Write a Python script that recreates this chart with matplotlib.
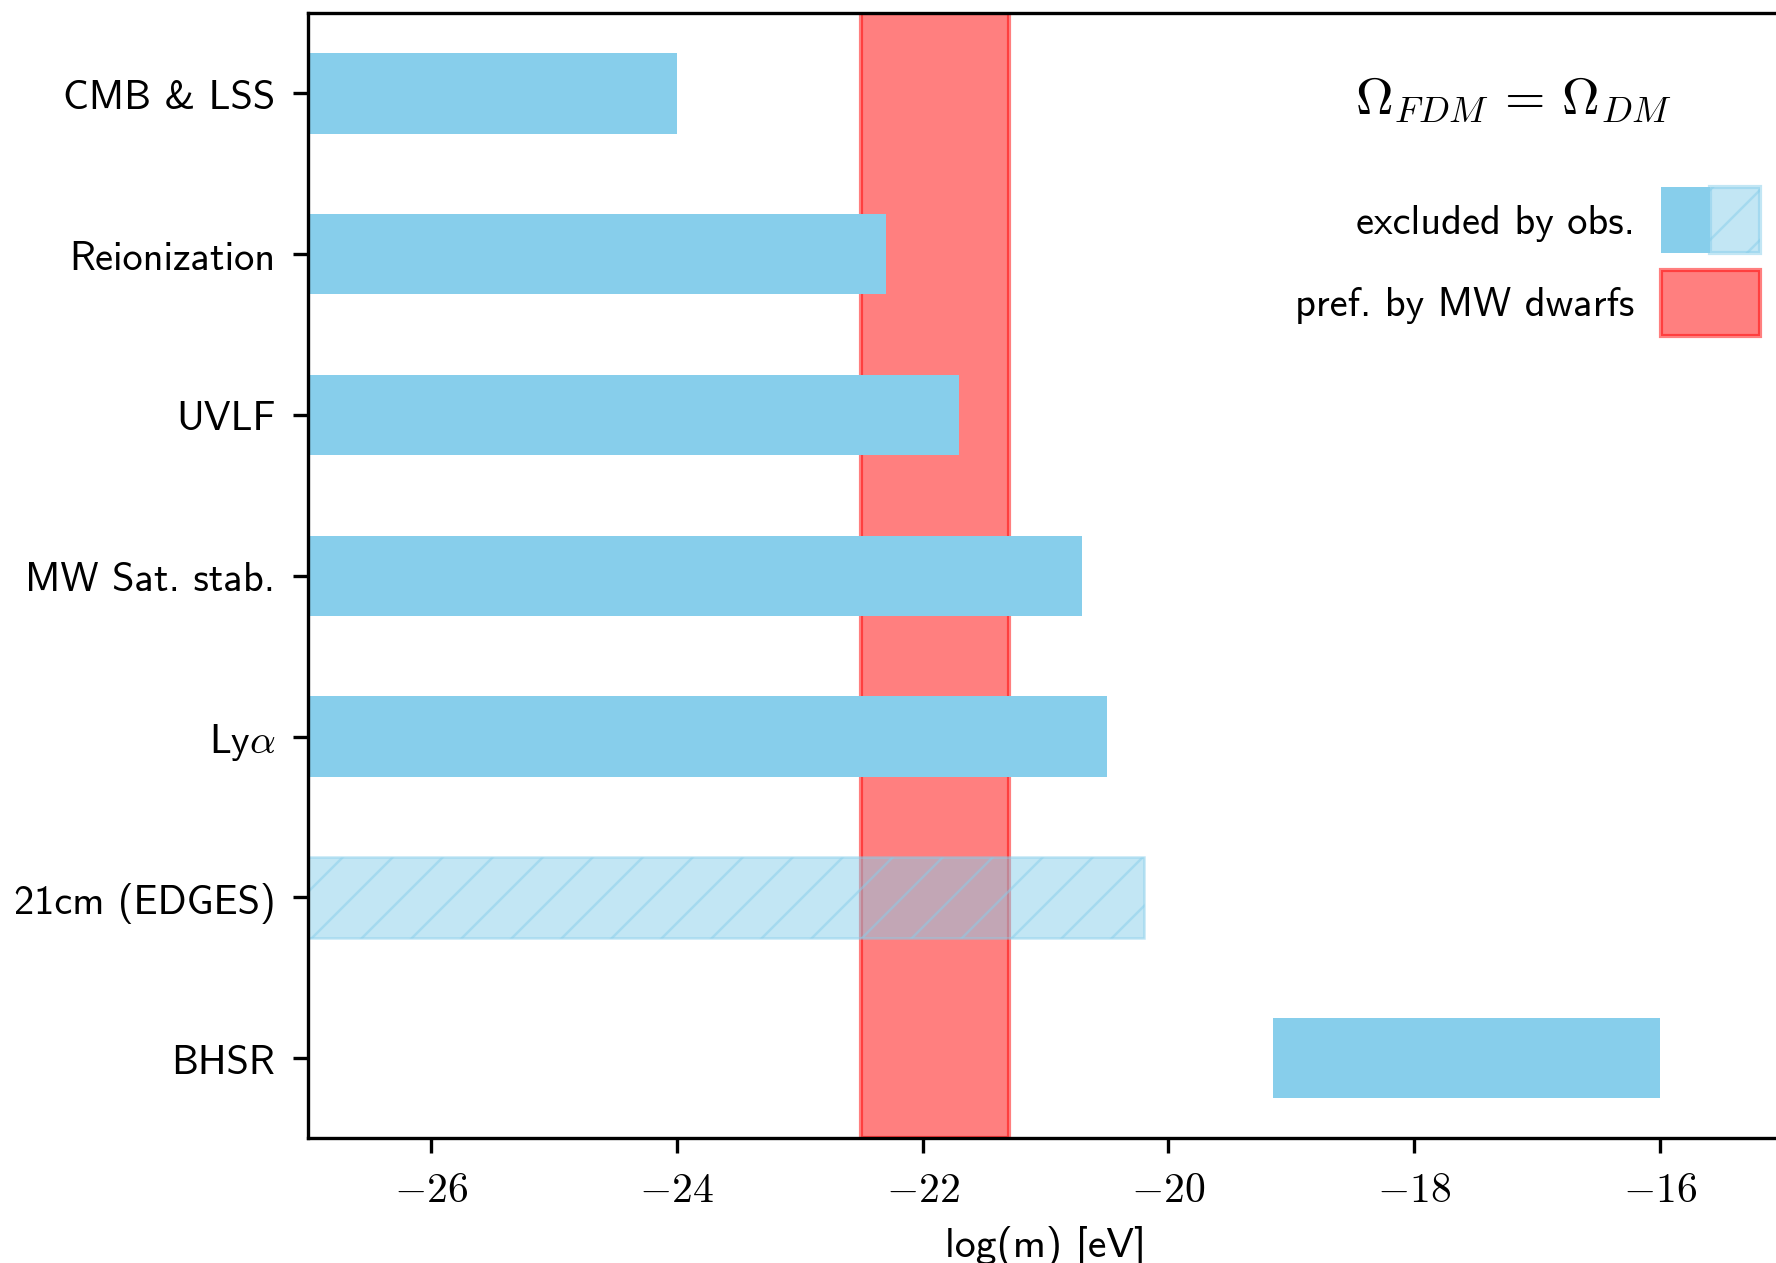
import matplotlib
matplotlib.use("Agg")
import matplotlib.pyplot as plt
from matplotlib.patches import Patch
from matplotlib.legend_handler import HandlerTuple
from matplotlib.ticker import FuncFormatter

# Fuzzy dark matter mass constraints, log10(m / eV)
probes = ["CMB & LSS", "Reionization", "UVLF", "MW Sat. stab.", r"Ly$\alpha$",
          "21cm (EDGES)", "BHSR"]
m_low = [-30.0, -30.0, -30.0, -30.0, -30.0, -30.0, -19.15]
m_high = [-24.0, -22.3, -21.7, -20.7, -20.5, -20.2, -16.0]
tentative = [False, False, False, False, False, True, False]

# mass range preferred by Milky Way dwarfs
mw_pref = (-22.5, -21.3)

plt.rcParams["mathtext.fontset"] = "cm"
plt.rcParams["font.family"] = ["cmss10", "DejaVu Sans"]
plt.rcParams["font.size"] = 9.7
plt.rcParams["hatch.linewidth"] = 0.6

fig = plt.figure(figsize=(5.92, 4.2133), dpi=300)
ax = fig.add_axes([0.1734, 0.0985, 0.8305, 0.8905])

ax.axvspan(*mw_pref, color="red", alpha=0.5, zorder=1)

for i, (lo, hi, tent) in enumerate(zip(m_low, m_high, tentative)):
    if tent:
        ax.barh(i, hi - lo, left=lo, height=0.5, color="skyblue", alpha=0.5,
                hatch="//", edgecolor="skyblue", linewidth=0.6, zorder=2)
    else:
        ax.barh(i, hi - lo, left=lo, height=0.5, color="skyblue",
                linewidth=0, zorder=2)

ax.set_yticks(range(len(probes)))
ax.set_yticklabels(probes)
ax.set_ylim(6.5, -0.5)
ax.set_xlim(-27, -15)
ax.set_xticks([-26, -24, -22, -20, -18, -16])
ax.xaxis.set_major_formatter(FuncFormatter(lambda v, p: rf"${v:.0f}$"))
ax.tick_params(axis="x", labelsize=10, pad=4.5)
ax.tick_params(axis="y", pad=4.3)
ax.set_xlabel("log(m) [eV]", fontsize=10)

fig.text(1513 / 1776, 1 - 100 / 1264, r"$\Omega_{FDM}\,=\,\Omega_{DM}$",
         fontsize=12.5, ha="center", va="center")

solid = Patch(facecolor="skyblue", edgecolor="none")
hatched = Patch(facecolor="skyblue", alpha=0.5, hatch="//", edgecolor="skyblue")
pref = Patch(facecolor="red", alpha=0.5, edgecolor="red", linewidth=1.0)
fig.legend([(solid, hatched), pref],
           ["excluded by obs.", "pref. by MW dwarfs"],
           handler_map={tuple: HandlerTuple(ndivide=None, pad=0)},
           loc="upper right", bbox_to_anchor=(1760 / 1776, 1 - 188 / 1264),
           frameon=False, markerfirst=False, borderpad=0, borderaxespad=0,
           handlelength=2.45, handleheight=2.15, handletextpad=0.65,
           labelspacing=0.4, fontsize=9.7)

fig.savefig("out.png", dpi=300)
